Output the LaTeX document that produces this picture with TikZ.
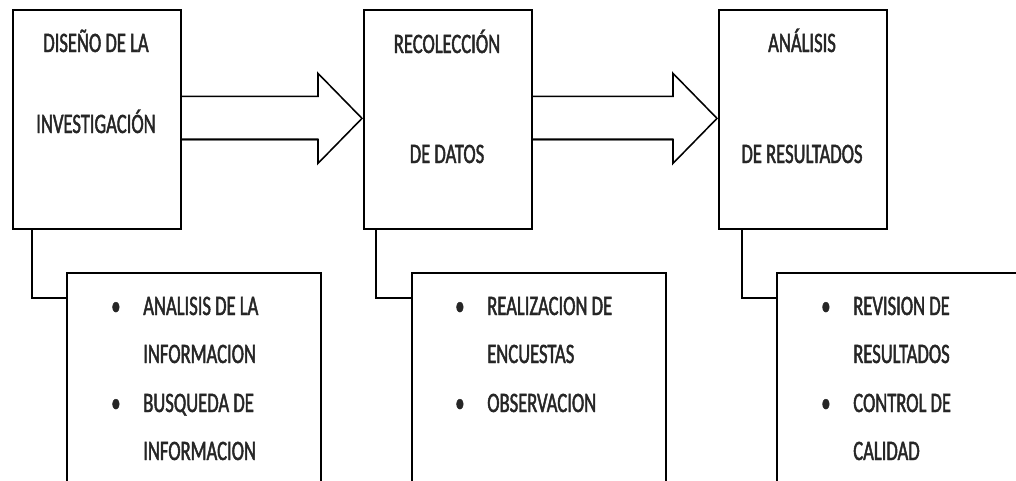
\documentclass[tikz,border=0pt]{standalone}
\usepackage{fontspec}
\setmainfont{Carlito}[FakeStretch=0.66, FakeBold=1.6]
\usetikzlibrary{calc}
% big hollow arrow between two stage boxes
\def\fatarrow#1#2{%
	\draw[shaftshade] ($(#1.east)+(0,20)$) -- ($(#2.west)+(-45,20)$);
	\draw[arrowline] ($(#1.east)+(0,-23)$) -- ($(#2.west)+(-45,-23)$) -- ($(#2.west)+(-45,-46)$) -- ($(#2.west)+(-1,-1)$) -- ($(#2.west)+(-45,44)$) -- ($(#2.west)+(-45,20)$) -- ($(#1.east)+(0,20)$);}

\tikzset{
	stagebox/.style={draw, line width=1.2pt, minimum width=4.2cm, minimum height=5.475cm, anchor=north west, inner sep=0pt},
	taskbox/.style={draw, line width=1.2pt, minimum width=6.35cm, minimum height=7.5cm, anchor=north west, inner sep=0pt},
	boxtext/.style={anchor=base, inner sep=0pt, text=black!85, font=\fontsize{20pt}{24pt}\selectfont},
	itemtext/.style={anchor=base west, inner sep=0pt, text=black!85, font=\fontsize{20pt}{24pt}\selectfont},
	arrowline/.style={line width=1.1pt, line join=miter},
	shaftshade/.style={line width=2.6pt, color=black!45},
	linkline/.style={line width=1.2pt}
}

\begin{document}
\begin{tikzpicture}[x=0.025cm, y=-0.025cm]
		%%%%% FRAME %%%%%
		\useasboundingbox (0, 0) rectangle (1016, 480);
		\clip (0, 0) rectangle (1016, 480);
		
		%%%%% STAGES %%%%%
		\node[stagebox] (diseno) at (12, 9) {};
		\node[stagebox] (recoleccion) at (363, 9) {};
		\node[stagebox] (analisis) at (718, 9) {};
		
		\node[boxtext] (dis1) at (96, 52) {DISEÑO DE LA};
		\node[boxtext] (dis2) at (96, 133) {INVESTIGACIÓN};
		\node[boxtext] (rec1) at (447, 53) {RECOLECCIÓN};
		\node[boxtext] (rec2) at (447, 163) {DE DATOS};
		\node[boxtext] (ana1) at (802, 52) {ANÁLISIS};
		\node[boxtext] (ana2) at (802, 163) {DE RESULTADOS};
		
		\fatarrow{diseno}{recoleccion}
		\fatarrow{recoleccion}{analisis}
		
		%%%%% TASKS %%%%%
		\node[taskbox] (tareas1) at (66, 272) {};
		\node[taskbox] (tareas2) at (411, 272) {};
		\node[taskbox] (tareas3) at (776, 272) {};
		
		\draw[linkline] ($(diseno.south west)+(20, 0)$) |- ($(tareas1.north west)+(0, 26)$);
		\draw[linkline] ($(recoleccion.south west)+(13, 0)$) |- ($(tareas2.north west)+(0, 26)$);
		\draw[linkline] ($(analisis.south west)+(24, 0)$) |- ($(tareas3.north west)+(0, 26)$);
		
		\node[itemtext] (b11) at (111, 315) {•};
		\node[itemtext] (t11) at (143, 315) {ANALISIS DE LA};
		\node[itemtext] (t12) at (143, 363) {INFORMACION};
		\node[itemtext] (b12) at (111, 412) {•};
		\node[itemtext] (t13) at (143, 412) {BUSQUEDA DE};
		\node[itemtext] (t14) at (143, 460) {INFORMACION};
		
		\node[itemtext] (b21) at (455, 315) {•};
		\node[itemtext] (t21) at (487, 315) {REALIZACION DE};
		\node[itemtext] (t22) at (487, 363) {ENCUESTAS};
		\node[itemtext] (b22) at (455, 412) {•};
		\node[itemtext] (t23) at (487, 412) {OBSERVACION};
		
		\node[itemtext] (b31) at (821, 315) {•};
		\node[itemtext] (t31) at (853, 315) {REVISION DE};
		\node[itemtext] (t32) at (853, 363) {RESULTADOS};
		\node[itemtext] (b32) at (821, 412) {•};
		\node[itemtext] (t33) at (853, 412) {CONTROL DE};
		\node[itemtext] (t34) at (853, 460) {CALIDAD};
		
	\end{tikzpicture}
\end{document}
